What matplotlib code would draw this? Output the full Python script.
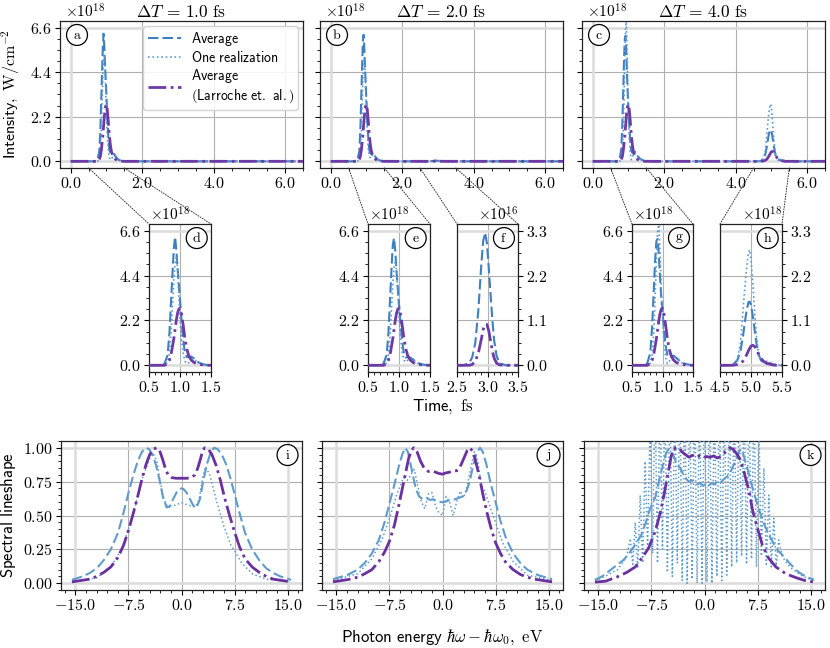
import numpy as np
import matplotlib
matplotlib.use('Agg')
import matplotlib.pyplot as plt
from matplotlib.ticker import AutoMinorLocator, FixedLocator, FuncFormatter
from matplotlib.patches import ConnectionPatch

plt.rcParams['mathtext.fontset'] = 'cm'
plt.rcParams['font.family'] = ['DejaVu Sans']

# ---------------- time-domain data (intensity, units of 1e18 W/cm^2) -------------
titles = [r'$\Delta T\,=\,1.0\ \mathrm{fs}$', r'$\Delta T\,=\,2.0\ \mathrm{fs}$', r'$\Delta T\,=\,4.0\ \mathrm{fs}$']

t_p1 = [0.70, 0.75, 0.80, 0.83, 0.86, 0.88, 0.90, 0.92, 0.94, 0.96, 0.98, 1.00, 1.02,
        1.05, 1.08, 1.11, 1.14, 1.18, 1.22, 1.26, 1.30, 1.35, 1.40, 1.45, 1.50]
avg_dt1_p1 = [0.0, 0.08, 0.5, 1.6, 3.4, 4.6, 5.7, 6.3, 5.7, 4.8, 4.0, 3.2, 2.4,
              1.3, 0.6, 0.4, 0.4, 0.43, 0.35, 0.24, 0.14, 0.07, 0.03, 0.01, 0.0]
avg_dt2_p1 = [0.0, 0.08, 0.5, 1.6, 3.5, 4.8, 5.9, 6.25, 5.6, 4.6, 3.8, 3.0, 2.2,
              1.2, 0.55, 0.38, 0.4, 0.38, 0.3, 0.2, 0.12, 0.06, 0.03, 0.01, 0.0]
avg_dt4_p1 = [0.0, 0.1, 0.6, 1.9, 3.9, 5.2, 6.1, 6.2, 5.4, 4.3, 3.3, 2.6, 1.9,
              1.0, 0.5, 0.42, 0.45, 0.47, 0.38, 0.27, 0.17, 0.1, 0.05, 0.02, 0.0]
one_dt1_p1 = [0.0, 0.0, 0.15, 0.6, 1.8, 3.0, 4.2, 5.0, 5.3, 4.8, 3.5, 2.3, 1.4,
              0.6, 0.2, 0.08, 0.12, 0.25, 0.3, 0.22, 0.12, 0.05, 0.02, 0.0, 0.0]
one_dt2_p1 = [0.0, 0.0, 0.12, 0.5, 1.6, 2.8, 4.0, 4.8, 5.1, 4.7, 3.6, 2.4, 1.5,
              0.65, 0.25, 0.15, 0.25, 0.35, 0.3, 0.2, 0.1, 0.05, 0.02, 0.0, 0.0]
one_dt4_p1 = [0.0, 0.0, 0.1, 0.5, 1.8, 3.4, 5.2, 6.6, 6.9, 5.6, 3.8, 2.4, 1.3,
              0.4, 0.08, 0.15, 0.4, 0.45, 0.35, 0.25, 0.15, 0.08, 0.03, 0.01, 0.0]
lar_p1 = [0.0, 0.0, 0.08, 0.25, 0.6, 0.95, 1.3, 1.75, 2.2, 2.55, 2.75, 2.8, 2.6,
          2.0, 1.3, 0.8, 0.48, 0.26, 0.15, 0.09, 0.05, 0.03, 0.015, 0.005, 0.0]

# second pulse, dT = 2 fs (units of 1e16 W/cm^2)
t_p2_dt2 = [2.60, 2.70, 2.75, 2.80, 2.85, 2.90, 2.93, 2.96, 2.99, 3.02, 3.05, 3.08,
            3.11, 3.15, 3.20, 3.30, 3.40]
avg_dt2_p2 = [0.0, 0.05, 0.2, 0.55, 1.35, 2.5, 3.05, 3.25, 3.0, 2.4, 1.75, 1.1,
              0.6, 0.22, 0.05, 0.0, 0.0]
lar_dt2_p2 = [0.0, 0.0, 0.02, 0.1, 0.3, 0.65, 0.88, 1.0, 1.0, 0.85, 0.6, 0.35,
              0.17, 0.05, 0.01, 0.0, 0.0]

# second pulse, dT = 4 fs (units of 1e18 W/cm^2)
t_p2_dt4 = [4.60, 4.70, 4.78, 4.83, 4.87, 4.90, 4.93, 4.96, 4.98, 5.00, 5.03, 5.06,
            5.09, 5.12, 5.16, 5.20, 5.25, 5.30, 5.35, 5.40, 5.50]
avg_dt4_p2 = [0.0, 0.01, 0.12, 0.35, 0.7, 1.05, 1.35, 1.55, 1.56, 1.48, 1.2, 0.85,
              0.52, 0.28, 0.12, 0.07, 0.05, 0.04, 0.02, 0.01, 0.0]
one_dt4_p2 = [0.0, 0.01, 0.15, 0.55, 1.3, 1.9, 2.4, 2.78, 2.83, 2.6, 2.0, 1.3,
              0.7, 0.3, 0.1, 0.08, 0.1, 0.08, 0.04, 0.01, 0.0]
lar_dt4_p2 = [0.0, 0.0, 0.02, 0.05, 0.1, 0.17, 0.26, 0.36, 0.42, 0.47, 0.49, 0.46,
              0.38, 0.28, 0.17, 0.1, 0.05, 0.03, 0.01, 0.0, 0.0]

t_edges = [0.0, 6.5]

# ---------------- spectral data (normalized) -------------
E_i_avg = [-15.5, -14, -13, -12, -11, -10, -9, -8.2, -7.5, -6.8, -6.2, -5.6, -5.0, -4.6, -4.1,
           -3.6, -3.1, -2.6, -2.1, -1.7, -1.2, -0.7, -0.3, 0.0, 0.3, 0.7, 1.2, 1.7, 2.1, 2.6,
           3.1, 3.6, 4.1, 4.6, 5.1, 5.7, 6.3, 6.9, 7.5, 8.2, 9, 10, 11, 12, 13, 14, 15.5]
S_i_avg = [0.025, 0.05, 0.075, 0.11, 0.17, 0.25, 0.37, 0.52, 0.67, 0.8, 0.9, 0.97, 1.0, 0.99, 0.95,
           0.87, 0.76, 0.63, 0.56, 0.565, 0.62, 0.67, 0.695, 0.70, 0.695, 0.67, 0.62, 0.57, 0.555, 0.62,
           0.76, 0.88, 0.96, 1.0, 0.99, 0.95, 0.88, 0.78, 0.66, 0.52, 0.37, 0.25, 0.17, 0.11, 0.075, 0.05, 0.025]
E_i_one = [-15.5, -12, -10, -8.5, -7.5, -6.5, -5.5, -4.5, -4.0, -3.5, -3.0, -2.5, -2.0, -1.0, 0.0,
           1.0, 2.0, 2.5, 3.0, 3.4, 4.0, 5.0, 6.0, 7.0, 7.5, 8.5, 10, 12, 15.5]
S_i_one = [0.01, 0.04, 0.12, 0.25, 0.4, 0.58, 0.78, 0.92, 0.96, 0.9, 0.75, 0.62, 0.57, 0.575, 0.595,
           0.575, 0.565, 0.62, 0.78, 0.86, 0.8, 0.6, 0.42, 0.28, 0.24, 0.15, 0.07, 0.03, 0.01]
E_i_lar = [-15.5, -13, -12, -11, -10, -9, -8.2, -7.5, -6.8, -6.2, -5.6, -5.0, -4.5, -4.0, -3.5, -3.1,
           -2.7, -2.3, -1.9, -1.4, -0.8, 0.0, 0.8, 1.4, 1.9, 2.3, 2.7, 3.0, 3.3, 3.8, 4.3, 4.9,
           5.5, 6.1, 6.8, 7.5, 8.2, 9, 10, 11, 12, 13, 15.5]
S_i_lar = [0.01, 0.03, 0.05, 0.08, 0.12, 0.19, 0.28, 0.39, 0.52, 0.64, 0.77, 0.88, 0.95, 0.99, 1.0, 0.98,
           0.92, 0.85, 0.8, 0.78, 0.775, 0.775, 0.775, 0.78, 0.8, 0.85, 0.92, 0.98, 1.0, 0.99, 0.95, 0.87,
           0.76, 0.63, 0.5, 0.38, 0.27, 0.18, 0.12, 0.08, 0.05, 0.03, 0.01]

E_j_avg = [-15.5, -13.5, -12, -11, -10, -9, -8.2, -7.5, -6.8, -6.2, -5.7, -5.3, -4.9, -4.4, -3.8,
           -3.3, -2.8, -2.3, -1.8, -1.3, -0.8, -0.3, 0.0, 0.3, 0.8, 1.3, 1.8, 2.3, 2.8, 3.3, 3.8,
           4.3, 4.8, 5.3, 5.7, 6.2, 6.8, 7.5, 8.2, 9, 10, 11, 12, 13.5, 15.5]
S_j_avg = [0.03, 0.06, 0.1, 0.15, 0.22, 0.32, 0.45, 0.59, 0.73, 0.86, 0.95, 1.0, 0.97, 0.85, 0.7,
           0.64, 0.62, 0.63, 0.615, 0.62, 0.605, 0.6, 0.598, 0.6, 0.61, 0.615, 0.62, 0.63, 0.64, 0.67, 0.74,
           0.86, 0.96, 1.0, 0.97, 0.88, 0.74, 0.6, 0.46, 0.33, 0.22, 0.15, 0.1, 0.06, 0.03]
E_j_one = [-15.5, -12, -10, -8.5, -7.5, -6.5, -5.5, -5.0, -4.5, -4.0, -3.5, -3.0, -2.5, -2.0, -1.5,
           -1.0, -0.5, 0.0, 0.5, 1.0, 1.5, 2.0, 2.5, 3.0, 3.5, 4.0, 4.5, 5.0, 5.5, 6.0, 6.5,
           7.5, 8.5, 10, 12, 15.5]
S_j_one = [0.02, 0.07, 0.18, 0.33, 0.48, 0.65, 0.78, 0.76, 0.8, 0.84, 0.72, 0.6, 0.55, 0.66, 0.67,
           0.57, 0.52, 0.5, 0.64, 0.6, 0.5, 0.6, 0.68, 0.63, 0.72, 0.85, 0.97, 0.9, 0.72, 0.68, 0.6,
           0.45, 0.3, 0.16, 0.06, 0.02]
E_j_lar = [-15.5, -13, -12, -11, -10, -9, -8.2, -7.5, -6.8, -6.2, -5.6, -5.2, -4.8, -4.4, -4.07,
           -3.6, -3.1, -2.6, -2.0, -1.5, -1.0, -0.5, 0.0, 0.5, 1.0, 1.5, 2.0, 2.5, 3.0, 3.5, 3.9,
           4.3, 4.7, 5.2, 5.7, 6.3, 6.9, 7.5, 8.2, 9, 10, 11, 12, 13, 15.5]
S_j_lar = [0.01, 0.03, 0.045, 0.07, 0.1, 0.16, 0.23, 0.31, 0.43, 0.57, 0.72, 0.82, 0.92, 0.98, 1.0,
           0.97, 0.9, 0.85, 0.825, 0.83, 0.82, 0.81, 0.805, 0.815, 0.82, 0.83, 0.83, 0.86, 0.92, 0.98, 1.0,
           0.97, 0.9, 0.79, 0.66, 0.52, 0.4, 0.3, 0.22, 0.15, 0.1, 0.065, 0.045, 0.03, 0.01]

E_k_avg = [-15.5, -14.5, -13.6, -12.5, -11.5, -10.8, -10.0, -9.5, -8.9, -8.3, -7.7, -7.0, -6.5,
           -6.0, -5.5, -5.1, -4.7, -4.3, -3.8, -3.4, -3.0, -2.6, -2.2, -1.8, -1.4, -1.0, -0.6,
           -0.2, 0.2, 0.6, 1.0, 1.4, 1.8, 2.2, 2.6, 3.0, 3.5, 4.0, 4.4, 4.8, 5.1, 5.5, 6.0, 6.6,
           7.2, 7.8, 8.4, 9.1, 9.8, 10.4, 11.0, 12.0, 13.2, 14.3, 15.5]
S_k_avg = [0.025, 0.05, 0.086, 0.13, 0.17, 0.21, 0.27, 0.31, 0.36, 0.45, 0.55, 0.63, 0.74,
           0.85, 0.95, 0.99, 0.97, 0.93, 0.87, 0.85, 0.80, 0.77, 0.75, 0.76, 0.74, 0.73, 0.74,
           0.72, 0.73, 0.72, 0.74, 0.73, 0.75, 0.74, 0.76, 0.78, 0.80, 0.86, 0.90, 0.96, 0.99, 0.95,
           0.86, 0.74, 0.63, 0.53, 0.44, 0.36, 0.29, 0.24, 0.21, 0.15, 0.086, 0.05, 0.025]
E_k_one = [-15.5, -14.7, -13.9, -13.1, -12.3, -11.6, -11.0,
           -10.5, -10.15, -9.8, -9.45, -9.1, -8.75, -8.4, -8.05, -7.7, -7.35, -7.0, -6.65,
           -6.3, -5.95, -5.6, -5.25, -4.9, -4.55, -4.2, -3.85, -3.5, -3.15, -2.8, -2.45,
           -2.1, -1.75, -1.4, -1.05, -0.7, -0.35, 0.0, 0.35, 0.7, 1.05, 1.4, 1.75, 2.1,
           2.45, 2.8, 3.15, 3.5, 3.85, 4.2, 4.55, 4.9, 5.25, 5.6, 5.95, 6.3, 6.65, 7.0,
           7.35, 7.7, 8.05, 8.4, 8.75, 9.1, 9.45, 9.8, 10.15, 10.5,
           11.0, 11.6, 12.3, 13.1, 13.9, 14.7, 15.5]
S_k_one = [0.02, 0.035, 0.055, 0.08, 0.1, 0.15, 0.2,
           0.33, 0.14, 0.45, 0.11, 0.65, 0.15, 0.9, 0.26, 1.2, 0.22, 1.4, 0.15,
           1.4, 0.25, 1.4, 0.08, 1.4, 0.05, 1.4, 0.15, 1.4, 0.02, 1.4, 0.0,
           1.4, 0.03, 1.4, 0.0, 1.4, 0.0, 1.4, 0.01, 1.4, 0.0, 1.4, 0.05, 1.4,
           0.02, 1.4, 0.06, 1.4, 0.12, 1.4, 0.15, 1.4, 0.2, 1.4, 0.14, 1.4, 0.18, 1.4,
           0.12, 1.15, 0.2, 0.85, 0.14, 0.65, 0.12, 0.48, 0.13, 0.32,
           0.2, 0.15, 0.11, 0.08, 0.05, 0.035, 0.02]
E_k_lar = [-15.5, -14.0, -12.2, -11.0, -9.8, -8.8, -7.9, -7.0, -6.3, -5.7, -5.1, -4.7, -4.4,
           -4.0, -3.6, -3.2, -2.7, -2.2, -1.7, -1.2, -0.7, -0.2, 0.3, 0.8, 1.3, 1.8, 2.3, 2.8,
           3.2, 3.6, 4.0, 4.5, 5.1, 5.7, 6.3, 6.8, 7.2, 7.7, 8.2, 9.0, 10.1, 11.5, 13.0, 14.2, 15.5]
S_k_lar = [0.008, 0.015, 0.05, 0.08, 0.12, 0.19, 0.26, 0.38, 0.51, 0.66, 0.83, 0.94, 0.99,
           1.0, 1.0, 0.97, 0.95, 0.93, 0.945, 0.93, 0.94, 0.925, 0.935, 0.93, 0.94, 0.925, 0.935, 0.96,
           0.99, 1.0, 0.99, 0.96, 0.91, 0.8, 0.68, 0.54, 0.46, 0.37, 0.28, 0.19, 0.12, 0.07, 0.04, 0.02, 0.008]

legend_labels = [r'$\mathsf{Average}$', r'$\mathsf{One\ realization}$',
                 r'$\mathsf{Average}$' + '\n' + r'$\mathsf{(Larroche\ et.\ al.)}$']

# ---------------- styling ----------------
C_AVG = '#3d7fc0'
C_ONE = '#5d9bd0'
C_LAR = '#6d3aa6'
C_AVG_S = '#5f9bcc'
C_ONE_S = '#5f9bcc'
C_LAR_S = '#6a30a0'
GRID = '#b0b0b0'
LIGHT = '#dcdcdc'
FS_TICK = 11.5

W, H = 830, 648
fig = plt.figure(figsize=(W / 100, H / 100), dpi=100)


def rect(x0, y0, x1, y1):
    return [x0 / W, 1 - y1 / H, (x1 - x0) / W, (y1 - y0) / H]


fmt1 = FuncFormatter(lambda v, p: r'$%.1f$' % v)
fmt2 = FuncFormatter(lambda v, p: r'$%.2f$' % v)


def style(ax, xt, yt, xminor, yminor, light_x, light_y, xfmt=fmt1, yfmt=fmt1):
    ax.xaxis.set_major_locator(FixedLocator(xt))
    ax.yaxis.set_major_locator(FixedLocator(yt))
    ax.xaxis.set_minor_locator(AutoMinorLocator(xminor))
    ax.yaxis.set_minor_locator(AutoMinorLocator(yminor))
    ax.xaxis.set_major_formatter(xfmt)
    ax.yaxis.set_major_formatter(yfmt)
    ax.grid(True, which='major', color=GRID, lw=0.8, zorder=0)
    for x in light_x:
        ax.axvline(x, color=LIGHT, lw=1.8, zorder=1)
    for y in light_y:
        ax.axhline(y, color=LIGHT, lw=1.8, zorder=1)
    ax.set_axisbelow(True)
    ax.tick_params(labelsize=FS_TICK, length=3.5, width=0.8, direction='out', pad=2.5)
    ax.tick_params(which='minor', length=2, width=0.6)
    for s in ax.spines.values():
        s.set_linewidth(0.9)
        s.set_color('#222222')


def panel_label(ax, letter, x, y):
    ax.text(x, y, r'$\mathrm{%s}$' % letter, transform=ax.transAxes, ha='center', va='center',
            fontsize=10, zorder=10,
            bbox=dict(boxstyle='circle,pad=0.25', fc='white', ec='black', lw=0.9))


def offset_text(ax, s, right=False):
    if right:
        ax.text(1.0, 1.005, s, transform=ax.transAxes, ha='right', va='bottom', fontsize=11)
    else:
        ax.text(0.02, 1.005, s, transform=ax.transAxes, ha='left', va='bottom', fontsize=11)


def full_series(parts):
    t = [t_edges[0]]
    v = [0.0]
    for tt, vv in parts:
        t += list(tt)
        v += list(vv)
    t.append(t_edges[1])
    v.append(0.0)
    return np.array(t), np.array(v)


sc16 = 0.01  # 1e16 -> 1e18 units
top_series = [
    (full_series([(t_p1, avg_dt1_p1)]), full_series([(t_p1, one_dt1_p1)]), full_series([(t_p1, lar_p1)])),
    (full_series([(t_p1, avg_dt2_p1), (t_p2_dt2, np.array(avg_dt2_p2) * sc16)]),
     full_series([(t_p1, one_dt2_p1), (t_p2_dt2, np.array(avg_dt2_p2) * sc16)]),
     full_series([(t_p1, lar_p1), (t_p2_dt2, np.array(lar_dt2_p2) * sc16)])),
    (full_series([(t_p1, avg_dt4_p1), (t_p2_dt4, avg_dt4_p2)]),
     full_series([(t_p1, one_dt4_p1), (t_p2_dt4, one_dt4_p2)]),
     full_series([(t_p1, lar_p1), (t_p2_dt4, lar_dt4_p2)])),
]

top_rects = [(60, 21, 303, 168), (320, 21, 563, 168), (582, 21, 825, 168)]
top_axes = []
for k, (r, ser, ttl, let) in enumerate(zip(top_rects, top_series, titles, 'abc')):
    ax = fig.add_axes(rect(*r))
    (ta, va), (to, vo), (tl, vl) = ser
    la, = ax.plot(ta, va, ls=(0, (5, 2)), color=C_AVG, lw=1.5, zorder=3)
    lo, = ax.plot(to, vo, ls=':', color=C_ONE, lw=1.2, zorder=3)
    ll, = ax.plot(tl, vl, ls='-.', color=C_LAR, lw=2.0, zorder=4)
    ax.set_xlim(-0.3, 6.5)
    ax.set_ylim(-0.33, 6.93)
    style(ax, [0, 2, 4, 6], [0, 2.2, 4.4, 6.6], 4, 4, [0], [0, 6.6])
    if k > 0:
        ax.set_yticklabels([])
    ax.set_title(ttl, fontsize=12.5, pad=3)
    panel_label(ax, let, 0.07, 0.905)
    offset_text(ax, r'$\times10^{18}$')
    top_axes.append(ax)
    if k == 0:
        leg = ax.legend([la, lo, ll], legend_labels,
                        loc='upper right', fontsize=10, handlelength=2.4, framealpha=0.85,
                        borderaxespad=0.35, labelspacing=0.15, borderpad=0.3, handletextpad=0.7)
        ax.set_ylabel(r'$\mathsf{Intensity,}\ \mathrm{W/cm^{-2}}$', fontsize=11.5)
        ax.yaxis.set_label_coords(-0.155, 0.5)

# ---------------- insets ----------------
insets = [
    ('d', (149, 224, 211, 372), 0, (0.5, 1.5), (t_p1, avg_dt1_p1), (t_p1, one_dt1_p1), (t_p1, lar_p1), 'L', 18),
    ('e', (368, 224, 430, 372), 1, (0.5, 1.5), (t_p1, avg_dt2_p1), (t_p1, one_dt2_p1), (t_p1, lar_p1), 'L', 18),
    ('f', (457, 224, 518, 372), 1, (2.5, 3.5), (t_p2_dt2, avg_dt2_p2), None, (t_p2_dt2, lar_dt2_p2), 'R', 16),
    ('g', (632, 224, 693, 372), 2, (0.5, 1.5), (t_p1, avg_dt4_p1), (t_p1, one_dt4_p1), (t_p1, lar_p1), 'L', 18),
    ('h', (720, 224, 782, 372), 2, (4.5, 5.5), (t_p2_dt4, avg_dt4_p2), (t_p2_dt4, one_dt4_p2), (t_p2_dt4, lar_dt4_p2), 'R', 18),
]
for let, r, parent, xr, sa, so, sl, side, expo in insets:
    ax = fig.add_axes(rect(*r))
    ax.plot([xr[0]] + list(sa[0]) + [xr[1]], [0] + list(sa[1]) + [0], ls=(0, (5, 2)), color=C_AVG, lw=1.5, zorder=3)
    if so is not None:
        ax.plot([xr[0]] + list(so[0]) + [xr[1]], [0] + list(so[1]) + [0], ls=':', color=C_ONE, lw=1.2, zorder=3)
    ax.plot([xr[0]] + list(sl[0]) + [xr[1]], [0] + list(sl[1]) + [0], ls='-.', color=C_LAR, lw=2.0, zorder=4)
    ax.set_xlim(*xr)
    xt = [xr[0], (xr[0] + xr[1]) / 2, xr[1]]
    if side == 'L':
        ax.set_ylim(-0.33, 6.93)
        yt = [0, 2.2, 4.4, 6.6]
    else:
        ax.set_ylim(-0.165, 3.465)
        yt = [0, 1.1, 2.2, 3.3]
    style(ax, xt, yt, 5, 4, [], [yt[0], yt[-1]])
    if side == 'R':
        ax.yaxis.tick_right()
        ax.yaxis.set_minor_locator(AutoMinorLocator(4))
    panel_label(ax, let, 0.77, 0.905)
    offset_text(ax, r'$\times10^{%d}$' % expo, right=(side == 'R'))
    pa = top_axes[parent]
    for xa, xb in [(xr[0], 0), (xr[1], 1)]:
        cp = ConnectionPatch(xyA=(xa, 0), coordsA=pa.get_xaxis_transform(), xyB=(xb, 1),
                             coordsB=ax.transAxes, ls=':', color='#333333', lw=0.7)
        fig.add_artist(cp)

fig.text(443 / W, 1 - 406 / H, r'$\mathsf{Time,}\ \mathrm{fs}$', ha='center', va='center', fontsize=12)

# ---------------- spectra ----------------
spec = [
    ('i', (61, 441, 302, 590), (E_i_avg, S_i_avg), (E_i_one, S_i_one), (E_i_lar, S_i_lar)),
    ('j', (322, 441, 563, 590), (E_j_avg, S_j_avg), (E_j_one, S_j_one), (E_j_lar, S_j_lar)),
    ('k', (584, 441, 825, 590), (E_k_avg, S_k_avg), (E_k_one, S_k_one), (E_k_lar, S_k_lar)),
]
for n, (let, r, sa, so, sl) in enumerate(spec):
    ax = fig.add_axes(rect(*r))
    ax.plot(sa[0], sa[1], ls=(0, (5, 2)), color=C_AVG_S, lw=1.5, zorder=3)
    ax.plot(so[0], so[1], ls=':', color=C_ONE_S, lw=1.1, zorder=3)
    ax.plot(sl[0], sl[1], ls='-.', color=C_LAR_S, lw=2.0, zorder=4)
    ax.set_xlim(-17.05, 17.05)
    ax.set_ylim(-0.05, 1.05)
    style(ax, [-15, -7.5, 0, 7.5, 15], [0, 0.25, 0.5, 0.75, 1.0], 5, 5, [-15, 15], [0, 1.0],
          xfmt=fmt1, yfmt=fmt2)
    if n > 0:
        ax.set_yticklabels([])
    else:
        ax.set_ylabel(r'$\mathsf{Spectral\ lineshape}$', fontsize=12)
        ax.yaxis.set_label_coords(-0.178, 0.5)
    if n == 1:
        ax.set_xlabel(r'$\mathsf{Photon\ energy}\ \hbar\omega - \hbar\omega_0,\ \mathrm{eV}$', fontsize=12)
        ax.xaxis.set_label_coords(0.5, -0.245)
    panel_label(ax, let, 0.94, 0.906)

fig.savefig('out.png', dpi=100)
